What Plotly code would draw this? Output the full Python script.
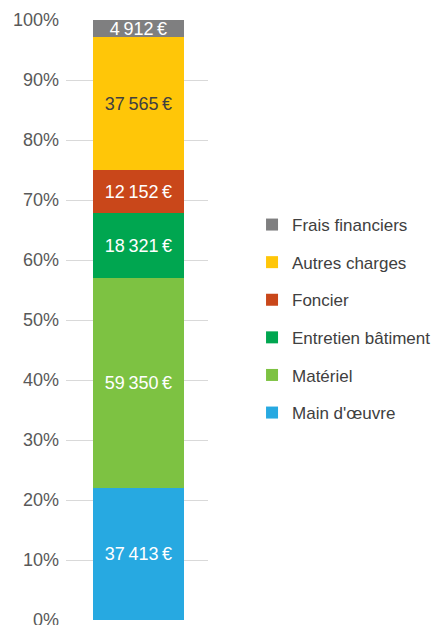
import plotly.graph_objects as go

categories = ["Total"]
series_names = ["Main d'œuvre", "Matériel", "Entretien bâtiment", "Foncier", "Autres charges", "Frais financiers"]
series_values = [37413, 59350, 18321, 12152, 37565, 4912]
colors = ["#27A9E1", "#7DC242", "#00A650", "#C9471A", "#FFC608", "#7F7F80"]
text_colors = ["white", "white", "white", "white", "#404040", "white"]
tick_vals = [0, 10, 20, 30, 40, 50, 60, 70, 80, 90, 100]
tick_text = [f"{v}%" for v in tick_vals]

FONT = "Liberation Sans, Arial, sans-serif"

def fmt(v):
    return f"{v:,}".replace(",", "\u202f") + "\u202f€"

fig = go.Figure()
n = len(series_names)
for i, (name, val) in enumerate(zip(series_names, series_values)):
    fig.add_trace(go.Bar(
        x=categories, y=[val], name=name,
        marker=dict(color=colors[i], line=dict(width=0)),
        text=[fmt(val)], textposition="inside", insidetextanchor="middle",
        constraintext="none", textangle=0,
        textfont=dict(color=text_colors[i], size=18, family=FONT),
        legendgroup=f"g{i}", legendrank=n - i,
    ))

fig.update_layout(
    barmode="stack", barnorm="percent", bargap=0.36,
    width=449, height=625,
    margin=dict(l=58, r=249, t=12, b=13, autoexpand=False),
    paper_bgcolor="white", plot_bgcolor="white",
    font=dict(family=FONT, color="#595959", size=18),
    xaxis=dict(showticklabels=False, showgrid=False, zeroline=False, showline=False,
               range=[-0.51, 0.49], automargin=False),
    yaxis=dict(range=[0, 100], tickvals=tick_vals, ticktext=tick_text, showgrid=True,
               gridcolor="#D9D9D9", gridwidth=1, zeroline=False, showline=False,
               ticks="", ticklabelstandoff=6, automargin=False,
               tickfont=dict(size=18, color="#595959")),
    legend=dict(xref="container", yref="container", x=0.5435, xanchor="left",
                y=0.5024, yanchor="middle",
                traceorder="grouped", tracegroupgap=12.5,
                font=dict(size=17, color="#404040"), itemwidth=30,
                bgcolor="rgba(0,0,0,0)"),
    showlegend=True,
)
fig.write_html("out.html")
